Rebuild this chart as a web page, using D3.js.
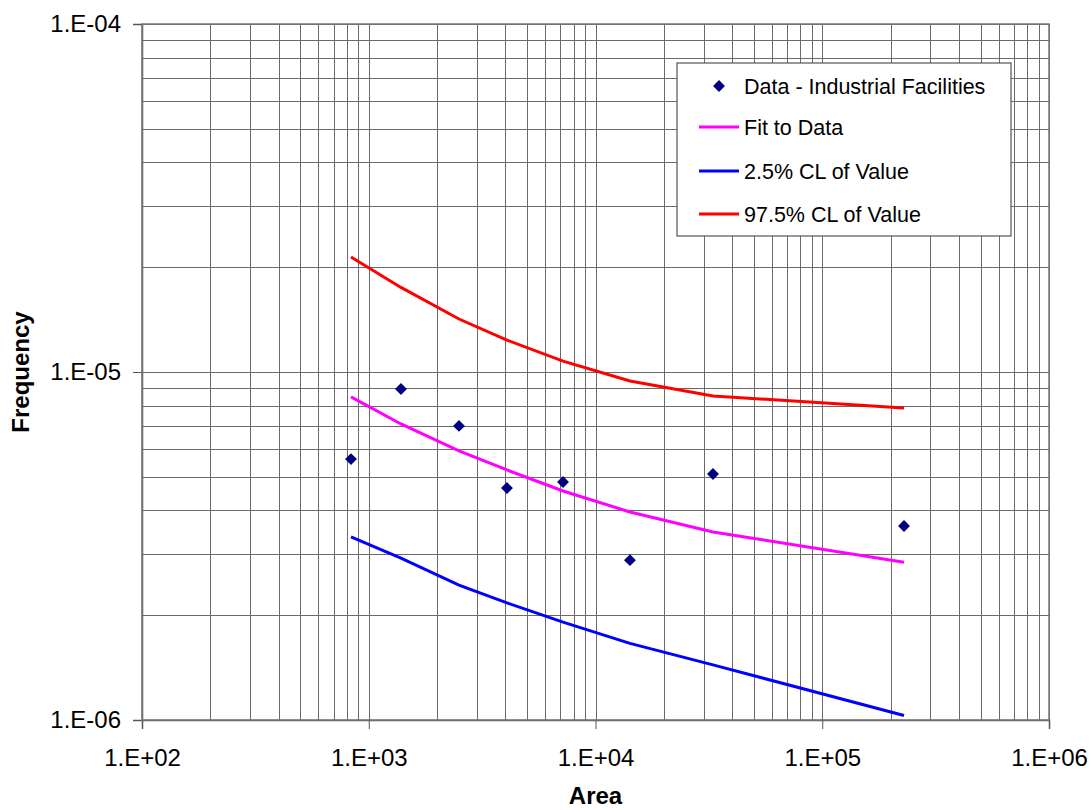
<!DOCTYPE html>
<html lang="en">
	<head>
		<meta charset="utf-8">
		<title>Frequency vs Area</title>
		<script type="text/javascript" src="https://cdn.jsdelivr.net/npm/d3@7"></script>
		<style type="text/css">
			body { margin: 0; background: #fff; }
			text { font-family: Arial, "Liberation Sans", sans-serif; }
		</style>
	</head>
	<body>
		<script type="text/javascript">

			//Data
			var area     = [835, 1387, 2500, 4070, 7190, 14190, 32970, 229400];
			var freqData = [5.62e-6, 8.94e-6, 7.0e-6, 4.64e-6, 4.83e-6, 2.88e-6, 5.09e-6, 3.61e-6];
			var fit      = [8.48e-6, 7.09e-6, 5.93e-6, 5.23e-6, 4.55e-6, 3.96e-6, 3.47e-6, 2.84e-6];
			var lowerCL  = [3.36e-6, 2.92e-6, 2.44e-6, 2.17e-6, 1.91e-6, 1.66e-6, 1.44e-6, 1.03e-6];
			var upperCL  = [2.14e-5, 1.75e-5, 1.42e-5, 1.235e-5, 1.075e-5, 9.42e-6, 8.53e-6, 7.88e-6];

			var xTicks = [1e2, 1e3, 1e4, 1e5, 1e6];
			var xTickLabels = ["1.E+02", "1.E+03", "1.E+04", "1.E+05", "1.E+06"];
			var yTicks = [1e-6, 1e-5, 1e-4];
			var yTickLabels = ["1.E-06", "1.E-05", "1.E-04"];

			var legendNames = ["Data - Industrial Facilities", "Fit to Data", "2.5% CL of Value", "97.5% CL of Value"];

			//Size
			var w = 1092;
			var h = 810;
			var margin = {left: 142, top: 24, right: 43, bottom: 90};
			var pw = w - margin.left - margin.right;
			var ph = h - margin.top - margin.bottom;

			var svg = d3.select("body")
						.append("svg")
						.attr("width", w)
						.attr("height", h);

			var xScale = d3.scaleLog()
							.domain([1e2, 1e6])
							.range([0, pw]);

			var yScale = d3.scaleLog()
							.domain([1e-6, 1e-4])
							.range([ph, 0]);

			var g = svg.append("g")
					   .attr("transform", "translate(" + margin.left + "," + margin.top + ")");

			//Grid lines (minor and major)
			var xGrid = xScale.ticks();
			var yGrid = yScale.ticks();

			g.selectAll("line.xgrid")
			 .data(xGrid)
			 .enter()
			 .append("line")
			 .attr("class", "xgrid")
			 .attr("x1", function(d) { return Math.round(xScale(d)) + 0.5; })
			 .attr("x2", function(d) { return Math.round(xScale(d)) + 0.5; })
			 .attr("y1", 0)
			 .attr("y2", ph)
			 .attr("stroke", "#6a6a6a")
			 .attr("stroke-width", 1);

			g.selectAll("line.ygrid")
			 .data(yGrid)
			 .enter()
			 .append("line")
			 .attr("class", "ygrid")
			 .attr("x1", 0)
			 .attr("x2", pw)
			 .attr("y1", function(d) { return Math.round(yScale(d)) + 0.5; })
			 .attr("y2", function(d) { return Math.round(yScale(d)) + 0.5; })
			 .attr("stroke", "#6a6a6a")
			 .attr("stroke-width", 1);

			//Axes
			var xAxis = d3.axisBottom(xScale)
						  .tickValues(xTicks)
						  .tickSize(9)
						  .tickFormat(function(d, i) { return xTickLabels[i]; });

			var yAxis = d3.axisLeft(yScale)
						  .tickValues(yTicks)
						  .tickSize(9)
						  .tickFormat(function(d, i) { return yTickLabels[i]; });

			var gx = g.append("g")
					  .attr("transform", "translate(0," + ph + ")")
					  .call(xAxis);
			gx.select(".domain").attr("stroke", "#555").attr("stroke-width", 1.5);
			gx.selectAll(".tick line").attr("stroke", "#555");
			gx.selectAll(".tick text")
			  .attr("font-size", "24px")
			  .attr("fill", "#000")
			  .attr("y", 46)
			  .attr("dy", 0)
			  .attr("font-family", "Arial, 'Liberation Sans', sans-serif");

			var gy = g.append("g").call(yAxis);
			gy.select(".domain").attr("stroke", "#555").attr("stroke-width", 1.5);
			gy.selectAll(".tick line").attr("stroke", "#555");
			gy.selectAll(".tick text")
			  .attr("font-size", "24px")
			  .attr("fill", "#000")
			  .attr("x", -21)
			  .attr("font-family", "Arial, 'Liberation Sans', sans-serif");

			//Plot border
			g.append("rect")
			 .attr("x", 0)
			 .attr("y", 0)
			 .attr("width", pw)
			 .attr("height", ph)
			 .attr("fill", "none")
			 .attr("stroke", "#777")
			 .attr("stroke-width", 1.5);

			//Lines
			var lineGen = d3.line()
							.x(function(d) { return xScale(d[0]); })
							.y(function(d) { return yScale(d[1]); });

			var series = [
				{values: fit, color: "#ff00ff"},
				{values: lowerCL, color: "#0000ff"},
				{values: upperCL, color: "#ff0000"}
			];

			g.selectAll("path.series")
			 .data(series)
			 .enter()
			 .append("path")
			 .attr("class", "series")
			 .attr("d", function(s) { return lineGen(d3.zip(area, s.values)); })
			 .attr("fill", "none")
			 .attr("stroke", function(s) { return s.color; })
			 .attr("stroke-width", 3);

			//Data points
			var diamond = d3.symbol().type(d3.symbolDiamond2).size(90);
			g.selectAll("path.pt")
			 .data(d3.zip(area, freqData))
			 .enter()
			 .append("path")
			 .attr("class", "pt")
			 .attr("d", diamond)
			 .attr("transform", function(d) {
			 	return "translate(" + xScale(d[0]) + "," + yScale(d[1]) + ")";
			 })
			 .attr("fill", "#000080");

			//Axis titles
			svg.append("text")
			   .text("Area")
			   .attr("x", margin.left + pw / 2)
			   .attr("y", 804)
			   .attr("text-anchor", "middle")
			   .attr("font-size", "24px")
			   .attr("font-weight", "bold");

			svg.append("text")
			   .text("Frequency")
			   .attr("transform", "translate(29," + (margin.top + ph / 2) + ") rotate(-90)")
			   .attr("text-anchor", "middle")
			   .attr("font-size", "24px")
			   .attr("font-weight", "bold");

			//Legend
			var lg = svg.append("g").attr("transform", "translate(677,63)");
			lg.append("rect")
			  .attr("width", 334)
			  .attr("height", 173)
			  .attr("fill", "#fff")
			  .attr("stroke", "#555")
			  .attr("stroke-width", 1.2);

			var legendColors = [null, "#ff00ff", "#0000ff", "#ff0000"];
			var rowY = [23, 64, 108, 151];

			legendNames.forEach(function(name, i) {
				if (i === 0) {
					lg.append("path")
					  .attr("d", diamond)
					  .attr("transform", "translate(42," + rowY[i] + ")")
					  .attr("fill", "#000080");
				} else {
					lg.append("line")
					  .attr("x1", 22)
					  .attr("x2", 62)
					  .attr("y1", rowY[i])
					  .attr("y2", rowY[i])
					  .attr("stroke", legendColors[i])
					  .attr("stroke-width", 3);
				}
				lg.append("text")
				  .text(name)
				  .attr("x", 67)
				  .attr("y", rowY[i])
				  .attr("dy", "0.36em")
				  .attr("font-size", "21.5px")
				  .attr("fill", "#000");
			});

		</script>
	</body>
</html>
